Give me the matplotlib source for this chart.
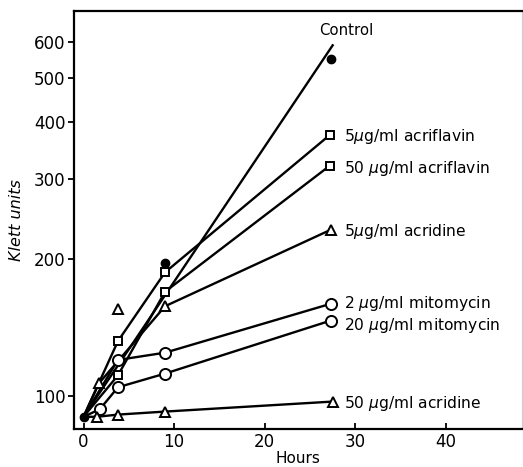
import matplotlib
matplotlib.use("Agg")
import matplotlib.pyplot as plt
from matplotlib.ticker import FixedLocator, NullLocator

# ---- data ----
control_x = [0, 9, 27.3]
control_y = [90, 196, 551]
control_fit_x = [0, 27.5]
control_fit_y = [90, 590]

acrif5_x = [0, 3.8, 9, 27.2]
acrif5_y = [90, 132, 187, 375]

acrif50_x = [0, 3.8, 9, 27.2]
acrif50_y = [90, 111, 169.5, 321]

acrid5_x = [0, 1.7, 9, 27.3]
acrid5_y = [90, 106.6, 157.5, 232]
acrid5_out_x = [3.8]
acrid5_out_y = [155]

mito2_x = [0, 3.8, 9, 27.3]
mito2_y = [90, 120, 124.5, 159.5]

mito20_x = [0, 1.8, 3.8, 9, 27.3]
mito20_y = [90, 93.5, 104.5, 112, 146.5]

acrid50_x = [0, 1.5, 3.8, 9, 27.5]
acrid50_y = [90, 90, 91, 92.4, 97.2]

labels = ["Control", "5$\\mu$g/ml acriflavin", "50 $\\mu$g/ml acriflavin",
          "5$\\mu$g/ml acridine", "2 $\\mu$g/ml mitomycin",
          "20 $\\mu$g/ml mitomycin", "50 $\\mu$g/ml acridine"]
label_y = [635, 371, 317, 230, 160, 143, 96.5]

yticks = [100, 200, 300, 400, 500, 600]
xticks = [0, 10, 20, 30, 40]

plt.rcParams['font.family'] = ['DejaVu Sans']
plt.rcParams['mathtext.fontset'] = 'dejavusans'

fig = plt.figure(figsize=(5.23, 4.67), dpi=100)
ax = fig.add_axes([74/523, 1-429/467, (522-74)/523, (429-11)/467])
ax.set_yscale('log')
ax.set_xlim(-1.05, 48.4)
ax.set_ylim(84.6, 702)

lw = 1.7
k = 'black'
# control
ax.plot(control_fit_x, control_fit_y, color=k, lw=lw, zorder=2)
ax.plot(control_x, control_y, 'o', color=k, ms=6, zorder=4)

def series(x, y, marker, ms):
    ax.plot(x, y, color=k, lw=lw, zorder=2)
    ax.plot(x[1:], y[1:], marker, mfc='white', mec=k, mew=1.4, ms=ms,
            ls='none', zorder=3)

series(acrif5_x, acrif5_y, 's', 6)
series(acrif50_x, acrif50_y, 's', 6)
series(acrid5_x, acrid5_y, '^', 7)
ax.plot(acrid5_out_x, acrid5_out_y, '^', mfc='white', mec=k, mew=1.4, ms=7, zorder=3)
series(mito2_x, mito2_y, 'o', 8)
series(mito20_x, mito20_y, 'o', 8)
series(acrid50_x, acrid50_y, '^', 7)

fs = 11.2
ax.text(29.0, label_y[0], labels[0], ha='center', va='center', fontsize=fs - 0.5)
for lab, yy in zip(labels[1:], label_y[1:]):
    ax.text(28.7, yy, lab, ha='left', va='center', fontsize=fs)

ax.yaxis.set_major_locator(FixedLocator(yticks))
ax.yaxis.set_minor_locator(NullLocator())
ax.set_yticklabels([str(v) for v in yticks])
ax.set_xticks(xticks)
ax.tick_params(axis='y', direction='out', length=4, width=1.3, labelsize=12, pad=2)
ax.tick_params(axis='x', direction='in', length=4, width=1.3, labelsize=12, pad=3)

for s in ['left', 'bottom', 'top']:
    ax.spines[s].set_linewidth(1.6)
ax.spines['right'].set_linewidth(0.8)
ax.spines['right'].set_color('#cccccc')

ax.set_xlabel('Hours', fontsize=11, labelpad=0)
ax.set_ylabel('Klett units', fontsize=11.5, style='italic', labelpad=7)

fig.savefig('out.png', dpi=100)
